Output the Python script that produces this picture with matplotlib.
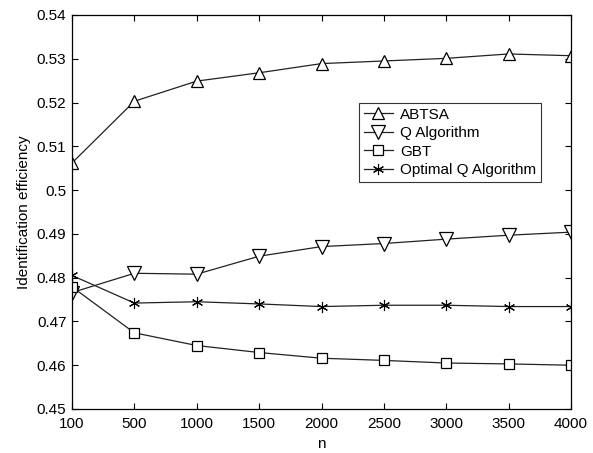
import matplotlib
matplotlib.use("Agg")
import matplotlib.pyplot as plt

n_labels = ["100", "500", "1000", "1500", "2000", "2500", "3000", "3500", "4000"]
abtsa = [0.5062, 0.5203, 0.5249, 0.5268, 0.5289, 0.5295, 0.5301, 0.5311, 0.5307]
q_alg = [0.4766, 0.4810, 0.4808, 0.4849, 0.4871, 0.4878, 0.4888, 0.4897, 0.4904]
gbt = [0.4779, 0.4674, 0.4645, 0.4629, 0.4616, 0.4611, 0.4605, 0.4603, 0.4600]
opt_q = [0.4805, 0.4742, 0.4745, 0.4740, 0.4734, 0.4737, 0.4737, 0.4734, 0.4734]
yticks = [0.45, 0.46, 0.47, 0.48, 0.49, 0.5, 0.51, 0.52, 0.53, 0.54]

plt.rcParams['font.family'] = ['Liberation Sans', 'DejaVu Sans']
fig = plt.figure(figsize=(5.93, 4.53), dpi=100)
ax = fig.add_axes([72/593, 1-409/453, (571-72)/593, (409-15)/453])
x = list(range(len(n_labels)))
lc = '#222222'
ax.plot(x, abtsa, color=lc, lw=0.9, marker='^', ms=9, mfc='white', mec='black', mew=0.9, label='ABTSA')
ax.plot(x, q_alg, color=lc, lw=0.9, marker='v', ms=10, mfc='white', mec='black', mew=0.9, label='Q Algorithm')
ax.plot(x, gbt, color=lc, lw=0.9, marker='s', ms=7.5, mfc='white', mec='black', mew=0.9, label='GBT')
ax.plot(x, opt_q, color=lc, lw=0.9, marker=(6, 2, 0), ms=8, mfc='black', mec='black', mew=0.8, label='Optimal Q Algorithm')
ax.set_xlim(0, len(n_labels)-1)
ax.set_ylim(0.45, 0.54)
ax.set_xticks(x)
ax.set_xticklabels(n_labels)
ax.set_yticks(yticks)
ax.set_yticklabels([f"{v:g}" for v in yticks])
ax.tick_params(direction='in', top=True, right=True, length=4, labelsize=11, width=0.8)
ax.tick_params(axis='x', pad=6)
ax.tick_params(axis='y', pad=4)
for s in ax.spines.values():
    s.set_linewidth(0.9)
ax.set_xlabel('n', fontsize=11, labelpad=4)
ax.set_ylabel('Identification efficiency', fontsize=11, labelpad=4)
leg = ax.legend(loc='upper left', bbox_to_anchor=((359-72)/499, 1-(103-15)/394), fontsize=11,
                frameon=True, fancybox=False, edgecolor='black', borderpad=0.3,
                labelspacing=0.3, handlelength=1.9, handletextpad=0.5, borderaxespad=0)
leg.get_frame().set_linewidth(0.8)
fig.savefig('out.png', dpi=100, facecolor='white')
